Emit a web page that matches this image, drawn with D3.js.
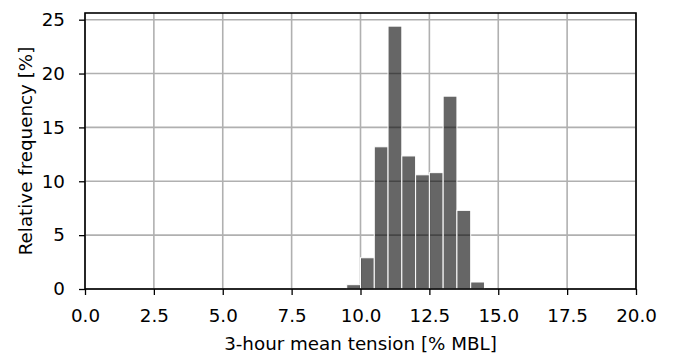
<!DOCTYPE html>
<html lang="en">
<head>
    <meta charset="UTF-8">
    <title>3-hour mean tension histogram</title>
    <script src="https://d3js.org/d3.v7.min.js"></script>
    <style>
        body { margin: 0; background: #fff; }
        text { font-family: "DejaVu Sans", sans-serif; fill: #000; }
    </style>
</head>
<body>
    <div id="chart"></div>
    <script>
        // histogram bins (left edge, width 0.5) and relative frequencies [%]
        const binStarts = [9.5, 10.0, 10.5, 11.0, 11.5, 12.0, 12.5, 13.0, 13.5, 14.0];
        const binWidth = 0.5;
        const frequencies = [0.4, 2.9, 13.2, 24.4, 12.35, 10.6, 10.8, 17.9, 7.3, 0.65];
        const xTicks = [0, 2.5, 5, 7.5, 10, 12.5, 15, 17.5, 20];
        const yTicks = [0, 5, 10, 15, 20, 25];

        const width = 675, height = 356;
        const margin = {top: 13, right: 39, bottom: 67, left: 85};
        const innerW = width - margin.left - margin.right;
        const innerH = height - margin.top - margin.bottom;
        const fontSize = 18.3;

        const svg = d3.select("#chart")
            .append("svg")
            .attr("width", width)
            .attr("height", height);

        const g = svg.append("g")
            .attr("transform", `translate(${margin.left}, ${margin.top})`);

        const x = d3.scaleLinear().domain([0, 20]).range([0, innerW]);
        const y = d3.scaleLinear().domain([0, d3.max(frequencies) * 1.05]).range([innerH, 0]);

        // grid
        g.append("g")
            .selectAll("line")
            .data(xTicks)
            .join("line")
            .attr("x1", d => x(d)).attr("x2", d => x(d))
            .attr("y1", 0).attr("y2", innerH)
            .attr("stroke", "#b0b0b0").attr("stroke-width", 1.6);

        g.append("g")
            .selectAll("line")
            .data(yTicks)
            .join("line")
            .attr("x1", 0).attr("x2", innerW)
            .attr("y1", d => y(d)).attr("y2", d => y(d))
            .attr("stroke", "#b0b0b0").attr("stroke-width", 1.6);

        // bars
        g.append("g")
            .selectAll("rect")
            .data(binStarts)
            .join("rect")
            .attr("x", d => x(d))
            .attr("width", x(binWidth) - x(0))
            .attr("y", (d, i) => y(frequencies[i]))
            .attr("height", (d, i) => y(0) - y(frequencies[i]))
            .attr("fill", "rgba(0,0,0,0.6)")
            .attr("stroke", "#fff")
            .attr("stroke-width", 1);

        // axes
        const xAxis = g.append("g")
            .attr("transform", `translate(0, ${innerH})`)
            .call(d3.axisBottom(x).tickValues(xTicks).tickFormat(d3.format(".1f")).tickSizeOuter(0).tickSize(6).tickPadding(14));

        const yAxis = g.append("g")
            .call(d3.axisLeft(y).tickValues(yTicks).tickFormat(d3.format("d")).tickSizeOuter(0).tickSize(6).tickPadding(14));

        [xAxis, yAxis].forEach(a => {
            a.attr("font-size", fontSize).attr("font-family", "DejaVu Sans");
            a.select(".domain").remove();
            a.selectAll(".tick line").attr("stroke", "#000").attr("stroke-width", 1.3);
        });

        // frame
        g.append("rect")
            .attr("width", innerW)
            .attr("height", innerH)
            .attr("fill", "none")
            .attr("stroke", "#000")
            .attr("stroke-width", 1.6);

        // labels
        svg.append("text")
            .attr("x", margin.left + innerW / 2)
            .attr("y", 350)
            .attr("text-anchor", "middle")
            .attr("font-size", fontSize)
            .text("3-hour mean tension [% MBL]");

        svg.append("text")
            .attr("transform", `translate(32, ${margin.top + innerH / 2}) rotate(-90)`)
            .attr("text-anchor", "middle")
            .attr("font-size", fontSize)
            .text("Relative frequency [%]");
    </script>
</body>
</html>
